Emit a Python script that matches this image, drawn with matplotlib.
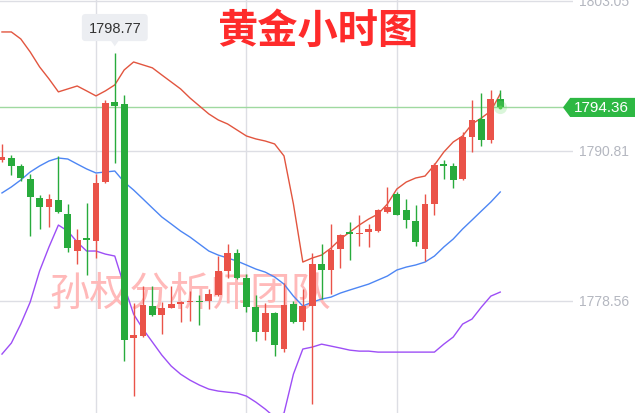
import matplotlib
matplotlib.use("Agg")
import matplotlib.pyplot as plt
from matplotlib.patches import Polygon
from matplotlib.transforms import blended_transform_factory
import numpy as np

plt.rcParams['font.family'] = ['Noto Sans CJK SC', 'DejaVu Sans']

title = "黄金小时图"
watermark = "孙权分析师团队"

opens = [1790.07, 1790.23, 1789.58, 1788.52, 1786.97, 1786.23, 1786.81, 1785.66, 1782.64, 1783.65,
         1783.46, 1788.27, 1794.81, 1794.65, 1775.53, 1775.70, 1778.15, 1777.41, 1777.99, 1778.31,
         1778.44, 1778.50, 1778.56, 1779.05, 1781.01, 1782.48, 1780.43, 1778.07, 1776.03, 1777.58,
         1774.64, 1778.31, 1776.84, 1778.15, 1781.58, 1781.09, 1782.80, 1784.19, 1784.03, 1784.19,
         1784.27, 1785.82, 1787.30, 1785.99, 1785.09, 1782.80, 1786.48, 1789.74, 1789.58, 1788.52,
         1791.95, 1793.42, 1791.70, 1795.05]
closes = [1790.32, 1789.58, 1788.60, 1787.05, 1786.23, 1786.89, 1785.82, 1782.88, 1783.54, 1783.58,
          1788.19, 1794.73, 1794.48, 1775.37, 1775.78, 1778.23, 1777.41, 1777.99, 1778.31, 1778.47,
          1778.50, 1778.44, 1779.13, 1781.01, 1782.48, 1780.43, 1778.07, 1776.03, 1777.58, 1774.96,
          1778.23, 1776.84, 1778.15, 1781.58, 1781.09, 1782.72, 1783.95, 1784.03, 1784.11, 1784.44,
          1785.99, 1786.23, 1785.58, 1785.17, 1783.37, 1786.48, 1789.66, 1789.58, 1788.44, 1791.95,
          1793.34, 1791.70, 1795.05, 1794.36]
highs = [1791.38, 1790.48, 1789.74, 1788.93, 1787.21, 1787.30, 1790.40, 1786.48, 1784.44, 1786.56,
         1788.93, 1794.97, 1798.77, 1795.38, 1778.39, 1779.78, 1779.78, 1778.47, 1779.78, 1778.56,
         1779.37, 1779.05, 1779.54, 1782.23, 1783.21, 1782.80, 1780.76, 1779.05, 1778.39, 1777.66,
         1780.02, 1778.56, 1779.54, 1782.48, 1783.21, 1784.85, 1784.03, 1785.01, 1785.58, 1784.85,
         1786.07, 1787.87, 1787.46, 1786.89, 1786.40, 1787.30, 1789.83, 1790.07, 1789.83, 1792.36,
         1794.97, 1795.54, 1795.79, 1795.79]
lows = [1789.91, 1788.85, 1788.36, 1783.87, 1784.44, 1784.60, 1785.74, 1782.56, 1781.58, 1780.68,
        1782.07, 1788.20, 1789.83, 1773.66, 1770.80, 1775.62, 1777.35, 1775.86, 1777.95, 1776.84,
        1776.92, 1776.60, 1777.91, 1779.00, 1780.43, 1780.38, 1777.66, 1775.29, 1775.37, 1774.06,
        1774.39, 1776.80, 1776.19, 1770.14, 1778.72, 1779.13, 1781.25, 1781.91, 1783.05, 1782.97,
        1784.19, 1785.74, 1785.55, 1784.52, 1783.05, 1781.82, 1785.58, 1788.52, 1787.79, 1788.44,
        1790.72, 1791.21, 1791.46, 1794.30]

upper = [1800.52, 1800.52, 1799.95, 1798.89, 1797.67, 1796.69, 1795.63, 1795.87, 1796.11, 1795.71,
         1795.30, 1795.71, 1796.20, 1797.42, 1798.07, 1797.83, 1797.59, 1797.01, 1796.44, 1795.87,
         1795.13, 1794.48, 1793.83, 1793.34, 1793.01, 1792.52, 1792.03, 1791.79, 1791.62, 1791.38,
         1790.40, 1786.48, 1781.74, 1782.07, 1782.31, 1782.88, 1783.62, 1784.19, 1784.76, 1785.25,
         1785.66, 1786.48, 1787.70, 1788.27, 1788.60, 1788.76, 1789.66, 1790.72, 1791.54, 1792.03,
         1793.01, 1793.50, 1794.07, 1795.46]
middle = [1787.38, 1787.87, 1788.44, 1789.09, 1789.58, 1789.99, 1790.23, 1790.15, 1789.74, 1789.34,
          1789.01, 1789.09, 1789.17, 1788.27, 1787.62, 1786.89, 1786.15, 1785.42, 1784.85, 1784.27,
          1783.78, 1783.21, 1782.64, 1782.31, 1782.07, 1781.82, 1781.50, 1781.17, 1780.92, 1780.52,
          1779.94, 1778.96, 1778.15, 1778.47, 1778.72, 1778.88, 1779.21, 1779.46, 1779.70, 1779.94,
          1780.27, 1780.60, 1781.09, 1781.33, 1781.50, 1781.74, 1782.23, 1782.97, 1783.62, 1784.44,
          1785.17, 1785.91, 1786.64, 1787.46]
lower = [1774.23, 1775.13, 1776.68, 1778.47, 1781.01, 1782.97, 1784.76, 1784.27, 1783.37, 1782.64,
         1782.64, 1782.39, 1782.23, 1779.78, 1777.49, 1776.27, 1775.21, 1774.15, 1773.25, 1772.59,
         1772.10, 1771.70, 1771.37, 1771.21, 1771.12, 1771.04, 1770.80, 1770.31, 1769.74, 1769.08,
         1769.41, 1772.59, 1774.64, 1774.80, 1775.04, 1774.88, 1774.72, 1774.55, 1774.47, 1774.47,
         1774.39, 1774.39, 1774.39, 1774.39, 1774.39, 1774.39, 1774.39, 1775.04, 1775.62, 1776.68,
         1777.09, 1778.07, 1778.96, 1779.29]

price_levels = [1803.05, 1790.81, 1778.56]
last_price = 1794.36
tooltip_idx = 12

RED = '#ea5349'
GREEN = '#28ab3c'
GRID = '#dddee4'


def main() -> None:
    fig = plt.figure(figsize=(6.35, 4.14), dpi=100)
    ax = fig.add_axes([0, 0, 573 / 635, 1])
    ax.set_xlim(-0.21, 60.74)
    ax.set_ylim(1769.42, 1803.21)
    ax.axis('off')

    x = np.arange(len(closes))
    o = np.array(opens)
    c = np.array(closes)
    up = c >= o
    colors = np.where(up, RED, GREEN)

    # grid
    for lvl in price_levels:
        ax.axhline(lvl, color=GRID, lw=1, zorder=0)
        ax.text(1.0105, lvl, f"{lvl:.2f}", transform=ax.get_yaxis_transform(),
                ha='left', va='center', fontsize=10, color='#b4b7c0',
                family='Liberation Sans', clip_on=False)
    for gx in [10, 26, 42]:
        ax.axvline(gx, color=GRID, lw=1, zorder=0)

    ax.text(20, 1779.2, watermark, ha='center', va='center', fontsize=29,
            color='#ffb9b9', zorder=1)

    # bands
    ax.plot(x, upper, color='#e2553f', lw=1, zorder=2)
    ax.plot(x, middle, color='#4d86f4', lw=1, zorder=2)
    ax.plot(x, lower, color='#9d4ef6', lw=1, zorder=2)

    # candles
    ax.vlines(x, lows, highs, colors=colors, lw=1, zorder=3)
    bottoms = np.minimum(o, c)
    heights = np.maximum(np.abs(c - o), 0.12)
    ax.bar(x, heights, bottom=bottoms, width=0.72, color=colors, zorder=4)

    # current price line and label
    ax.plot([-0.21, 59.7], [last_price, last_price], color='#9fd9a0', lw=1, zorder=1)
    ax.scatter([x[-1]], [last_price], s=90, color='#6fdc6f', alpha=0.25, zorder=5, lw=0)
    ax.scatter([x[-1]], [last_price], s=8, color='#4fcf4f', zorder=5, lw=0)
    tr = blended_transform_factory(ax.transAxes, ax.transData)
    h = 0.78
    poly = Polygon([(0.9825, last_price), (0.995, last_price + h), (1.11, last_price + h),
                    (1.11, last_price - h), (0.995, last_price - h)],
                   closed=True, transform=tr, facecolor='#2db843', edgecolor='none',
                   clip_on=False, zorder=6)
    ax.add_patch(poly)
    ax.text(1.002, last_price, f"{last_price:.2f}", transform=tr, ha='left', va='center',
            fontsize=11, color='white', family='Liberation Sans', clip_on=False, zorder=7)

    # tooltip for the high
    tx = x[tooltip_idx]
    ax.text(tx, 1800.88, f"{highs[tooltip_idx]:.2f}", ha='center', va='center',
            fontsize=10.5, color='#333333', family='Liberation Sans', zorder=7,
            bbox=dict(boxstyle='round,pad=0.45,rounding_size=0.25', fc='#eceef2', ec='none'))
    tri = Polygon([(tx - 0.55, 1799.96), (tx + 0.55, 1799.96), (tx, 1799.35)],
                  closed=True, facecolor='#eceef2', edgecolor='none', zorder=6)
    ax.add_patch(tri)

    fig.text(317.5 / 635, 1 - 31 / 414, title, ha='center', va='center', fontsize=29,
             fontweight='bold', color='#fe2b2b')

    fig.savefig("out.png", dpi=100)


if __name__ == '__main__':
    main()
